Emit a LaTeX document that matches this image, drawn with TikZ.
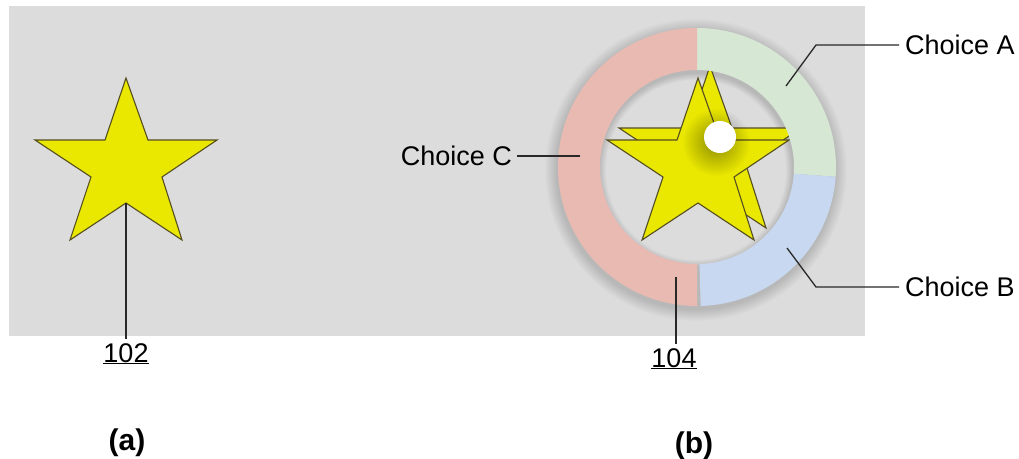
\documentclass[tikz,border=0pt]{standalone}
\usepackage{fontspec}
\setmainfont{Liberation Sans}
\usetikzlibrary{fadings}
\tikzfading[name=myglow, inner color=transparent!0, outer color=transparent!100]
\definecolor{bg}{RGB}{220,220,220}
\definecolor{staryellow}{RGB}{234,232,0}
\definecolor{staredge}{RGB}{85,78,30}
\definecolor{ringred}{RGB}{233,186,178}
\definecolor{ringgreen}{RGB}{214,232,212}
\definecolor{ringblue}{RGB}{200,216,240}
\definecolor{leader}{RGB}{40,40,40}
\tikzset{
  starshape/.pic={\filldraw[fill=staryellow,draw=staredge,line width=1.1pt,line join=miter]
    (0,-89) -- (22,-27) -- (91,-27) -- (36,10) -- (56,73) -- (0,36) -- (-56,73) -- (-35,10) -- (-91,-27) -- (-21,-27) -- cycle;},
  leaderline/.style={draw=leader,line width=1.3pt},
  lbl/.style={font=\fontsize{27}{32}\selectfont,inner sep=0pt,text=black},
  captext/.style={font=\fontsize{30}{36}\selectfont\bfseries,inner sep=0pt,text=black},
}
\begin{document}
\begin{tikzpicture}[x=1pt,y=-1pt]
\useasboundingbox (0,0) rectangle (1019,458);
\fill[bg] (9,6) rectangle (865,336);

% (a) star
\pic at (126,167) {starshape};
\coordinate (s1) at (126,203);
\node[lbl,anchor=base,outer sep=4pt] (n102) at (126,362) {\underline{102}};
\draw[leaderline] (s1) -- (n102.north);

% (b) ring shadow
\foreach \i in {1,...,12}{
  \fill[black,opacity=0.013,even odd rule] (696,170) circle[radius=139+\i] (696,170) circle[radius=97-0.6*\i];
}
% stars
\pic at (710,155) {starshape};
\pic at (698,167) {starshape};
% glow around dot
\fill[black,opacity=0.4,path fading=myglow] (716,142) circle[radius=34];
% ring
\begin{scope}[shift={(697,167)}]
  \fill[ringgreen] (-90:139) arc[start angle=-90,end angle=4,radius=139] -- (4:97) arc[start angle=4,end angle=-90,radius=97] -- cycle;
  \fill[ringblue] (4:139) arc[start angle=4,end angle=88.5,radius=139] -- (88.5:97) arc[start angle=88.5,end angle=4,radius=97] -- cycle;
  \fill[ringred] (90:139) arc[start angle=90,end angle=270,radius=139] -- (270:97) arc[start angle=270,end angle=90,radius=97] -- cycle;
\end{scope}
% white dot
\fill[white] (720,137) circle[radius=16];

% leaders
\coordinate (rA) at (786,86);
\coordinate (kA) at (816,45);
\coordinate (rB) at (787,248);
\coordinate (kB) at (816,287);
\coordinate (rC) at (580,156);
\coordinate (r104) at (676,277);
\node[lbl,anchor=west,outer sep=6pt] (cA) at (899,45) {Choice A};
\node[lbl,anchor=west,outer sep=6pt] (cB) at (899,287) {Choice B};
\node[lbl,anchor=east,outer sep=5pt] (cC) at (517,156) {Choice C};
\node[lbl,anchor=base,outer sep=4pt] (n104) at (674,367) {\underline{104}};
\draw[leaderline] (rA) -- (kA) -- (cA.west);
\draw[leaderline] (rB) -- (kB) -- (cB.west);
\draw[leaderline] (rC) -- (cC.east);
\draw[leaderline] (r104) -- (n104.north -| r104);

% captions
\node[captext,anchor=base] (ca) at (127,450) {(a)};
\node[captext,anchor=base] (cb) at (694,453) {(b)};
\end{tikzpicture}
\end{document}
